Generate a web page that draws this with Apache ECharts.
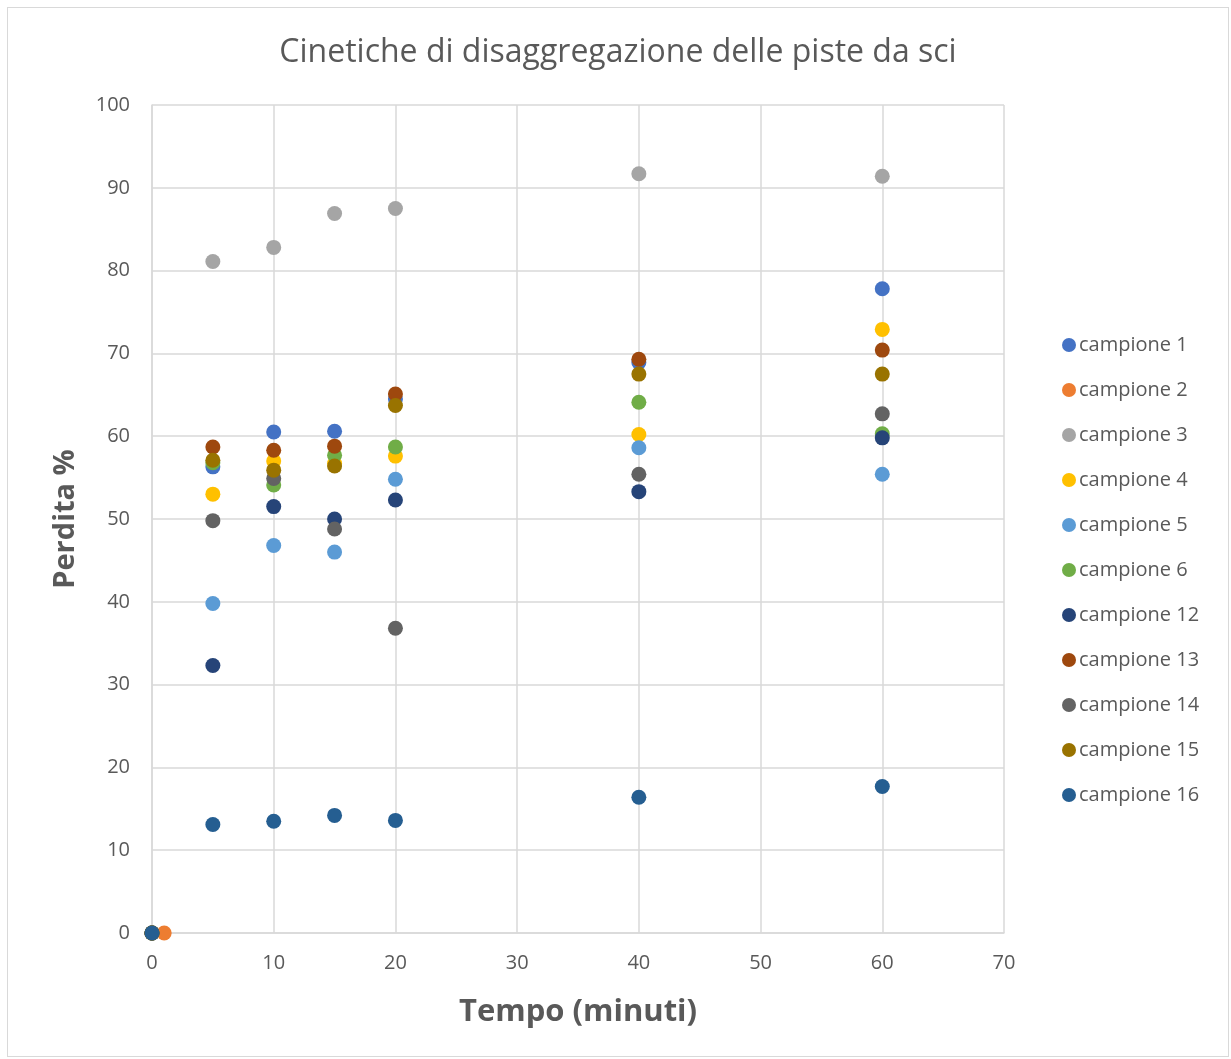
<!DOCTYPE html>
<html>
<head>
<meta charset="utf-8">
<script src="https://cdn.jsdelivr.net/npm/echarts@6/dist/echarts.min.js"></script>
<style>
  html, body { margin: 0; padding: 0; background: #fff; }
  #main { position: absolute; left: 7px; top: 7px; width: 1222px; height: 1050px; border: 1px solid #d9d9d9; box-sizing: border-box; }
</style>
</head>
<body>
<div id="main"></div>
<script>
    // tempi di campionamento (minuti)
    var tempi = [0, 5, 10, 15, 20, 40, 60];

    // perdita % per campione
    var campione1 = [0, 56.3, 60.5, 60.6, 64.5, 68.9, 77.8];
    var campione2 = [[1, 0]];
    var campione3 = [0, 81.1, 82.8, 86.9, 87.5, 91.7, 91.4];
    var campione4 = [0, 53.0, 57.0, 56.7, 57.6, 60.2, 72.9];
    var campione5 = [0, 39.8, 46.8, 46.0, 54.8, 58.6, 55.4];
    var campione6 = [0, 56.8, 54.1, 57.7, 58.7, 64.1, 60.3];
    var campione12 = [0, 32.3, 51.5, 50.0, 52.3, 53.3, 59.8];
    var campione13 = [0, 58.7, 58.3, 58.8, 65.1, 69.3, 70.4];
    var campione14 = [0, 49.8, 54.9, 48.8, 36.8, 55.4, 62.7];
    var campione15 = [0, 57.1, 55.9, 56.4, 63.7, 67.5, 67.5];
    var campione16 = [0, 13.1, 13.5, 14.2, 13.6, 16.4, 17.7];

    var nomi = ['campione 1', 'campione 2', 'campione 3', 'campione 4', 'campione 5', 'campione 6',
        'campione 12', 'campione 13', 'campione 14', 'campione 15', 'campione 16'];
    var colori = ['#4472C4', '#ED7D31', '#A5A5A5', '#FFC000', '#5B9BD5', '#70AD47',
        '#264478', '#9E480E', '#636363', '#997300', '#255E91'];

    var coppie = function (valori) {
        return valori.map(function (v, i) { return [tempi[i], v]; });
    };

    var datiSerie = [
        coppie(campione1), campione2, coppie(campione3), coppie(campione4), coppie(campione5),
        coppie(campione6), coppie(campione12), coppie(campione13), coppie(campione14),
        coppie(campione15), coppie(campione16)
    ];

    var myChart = echarts.init(document.getElementById('main'));

    var font = '"Open Sans", "Liberation Sans", sans-serif';

    option = {
        color: colori,
        textStyle: { fontFamily: font },
        title: {
            text: 'Cinetiche di disaggregazione delle piste da sci',
            left: 'center',
            top: 24,
            textStyle: { color: '#595959', fontSize: 32, fontWeight: 'normal', fontFamily: font }
        },
        legend: {
            data: nomi,
            orient: 'vertical',
            left: 1049,
            top: 320,
            icon: 'circle',
            itemWidth: 14,
            itemHeight: 14,
            itemGap: 21,
            textStyle: { color: '#595959', fontSize: 20, lineHeight: 24, padding: [0, 0, 0, -2], fontFamily: font }
        },
        grid: {
            left: 144,
            right: 224,
            top: 97,
            bottom: 123,
            containLabel: false
        },
        xAxis: {
            type: 'value',
            min: 0,
            max: 70,
            interval: 10,
            name: 'Tempo (minuti)',
            nameLocation: 'middle',
            nameGap: 64,
            nameTextStyle: { color: '#595959', fontSize: 31, fontWeight: 'bold', fontFamily: font },
            axisLine: { show: true, lineStyle: { color: '#d9d9d9', width: 1.5 } },
            axisTick: { show: false },
            axisLabel: { color: '#595959', fontSize: 20, margin: 20, fontFamily: font },
            splitLine: { show: true, lineStyle: { color: '#d9d9d9', width: 1.5 } }
        },
        yAxis: {
            type: 'value',
            min: 0,
            max: 100,
            interval: 10,
            name: 'Perdita %',
            nameLocation: 'middle',
            nameGap: 72,
            nameTextStyle: { color: '#595959', fontSize: 29, fontWeight: 'bold', fontFamily: font },
            axisLine: { show: true, lineStyle: { color: '#d9d9d9', width: 1.5 } },
            axisTick: { show: false },
            axisLabel: { color: '#595959', fontSize: 20, margin: 22, fontFamily: font },
            splitLine: { show: true, lineStyle: { color: '#d9d9d9', width: 1.5 } }
        },
        series: nomi.map(function (n, i) {
            return {
                name: n,
                type: 'scatter',
                symbol: 'circle',
                symbolSize: 15,
                data: datiSerie[i],
                itemStyle: { color: colori[i], opacity: 1 },
                emphasis: { disabled: true }
            };
        })
    };

    myChart.setOption(option);
</script>
</body>
</html>
